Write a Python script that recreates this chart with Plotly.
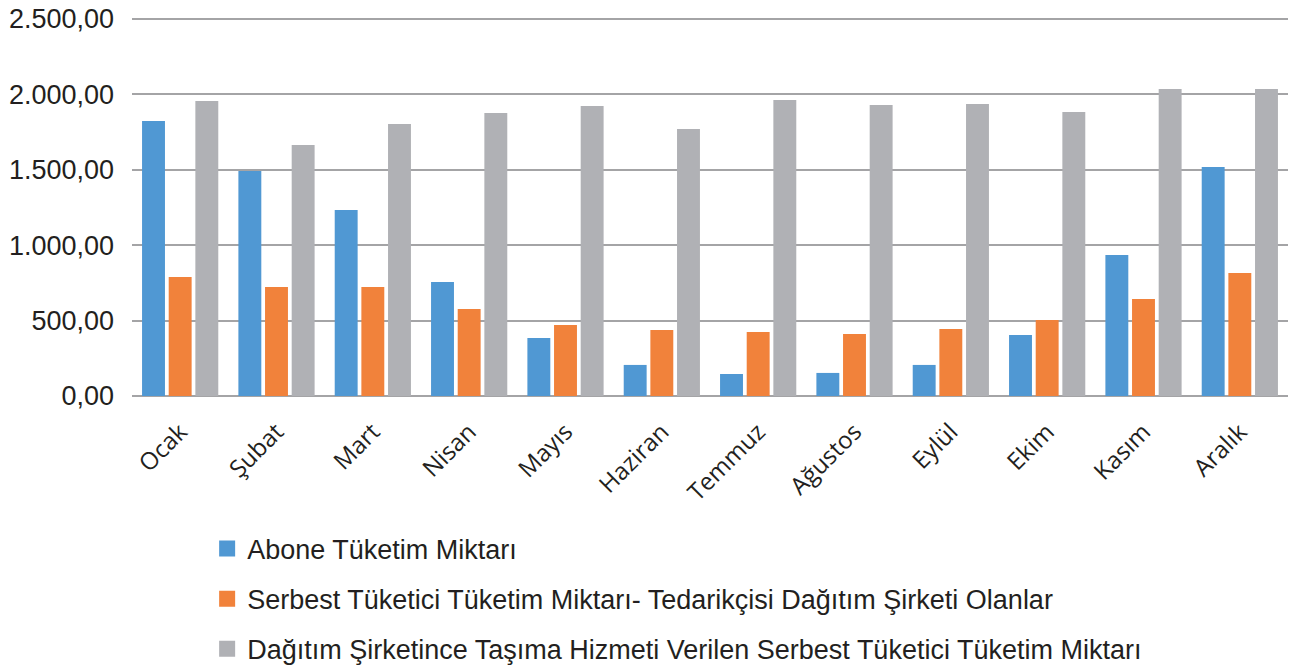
import plotly.graph_objects as go

months = ["Ocak", "Şubat", "Mart", "Nisan", "Mayıs", "Haziran",
          "Temmuz", "Ağustos", "Eylül", "Ekim", "Kasım", "Aralık"]

abone = [1823, 1492, 1233, 756, 385, 206, 146, 153, 206, 405, 935, 1519]
serbest_tedarik = [789, 723, 723, 577, 471, 438, 424, 411, 444, 504, 643, 816]
tasima_hizmeti = [1956, 1664, 1804, 1877, 1923, 1771, 1963, 1930, 1936, 1883, 2036, 2036]

series_names = [
    "Abone Tüketim Miktarı",
    "Serbest Tüketici Tüketim Miktarı- Tedarikçisi Dağıtım Şirketi Olanlar",
    "Dağıtım Şirketince Taşıma Hizmeti Verilen Serbest Tüketici Tüketim Miktarı",
]
series_values = [abone, serbest_tedarik, tasima_hizmeti]
colors = ["#5098D3", "#F1823B", "#B0B1B5"]

fig = go.Figure()

for name, vals, col in zip(series_names, series_values, colors):
    fig.add_trace(go.Bar(
        x=months, y=vals, name=name, showlegend=False,
        marker=dict(color=col, line=dict(width=0)),
    ))

# Legend entries with larger square swatches
for i, (name, col) in enumerate(zip(series_names, colors)):
    fig.add_trace(go.Scatter(
        x=[None], y=[None], mode="markers", name=name,
        legendgroup=f"g{i}",
        marker=dict(symbol="square", size=16, color=col),
    ))

fig.update_layout(
    width=1291, height=665,
    margin=dict(l=132, r=3, t=17, b=269, autoexpand=False),
    paper_bgcolor="white", plot_bgcolor="white",
    separators=",.",
    barmode="group", bargap=0.17, bargroupgap=0.14,
    font=dict(family="Liberation Sans, Arial, sans-serif", color="#231F20"),
    xaxis=dict(
        tickangle=-45,
        tickfont=dict(family="Open Sans, sans-serif", size=24, color="#231F20"),
        showgrid=False, showline=False, ticks="",
        ticklabelstandoff=16, automargin=False,
    ),
    yaxis=dict(
        range=[0, 2513], tick0=0, dtick=500, tickformat=",.2f",
        tickfont=dict(size=27, color="#231F20"),
        showgrid=True, gridcolor="#A4A4A6", gridwidth=1.5,
        zeroline=True, zerolinecolor="#A4A4A6", zerolinewidth=1.5,
        ticklabelstandoff=17, automargin=False,
    ),
    legend=dict(
        x=0.065, xanchor="left", y=-0.339, yanchor="top",
        orientation="v", tracegroupgap=12,
        font=dict(size=27, color="#231F20"),
        itemsizing="trace",
    ),
)

fig.write_html("out.html")
